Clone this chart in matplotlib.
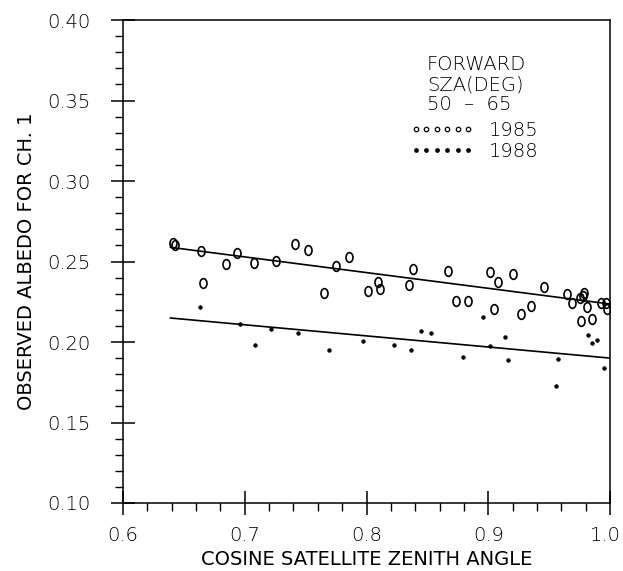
import numpy as np
import matplotlib
matplotlib.use("Agg")
import matplotlib.pyplot as plt
from matplotlib.path import Path
from matplotlib.lines import Line2D
from matplotlib.ticker import MultipleLocator, FormatStrFormatter
from matplotlib.transforms import ScaledTranslation

plt.rcParams['font.family'] = ['DejaVu Sans']
plt.rcParams['font.weight'] = 200

# ---- data ----
x_1985 = [0.6411, 0.6427, 0.6641, 0.6936, 0.6846, 0.7076, 0.7257, 0.6657,
          0.7413, 0.7520, 0.7856, 0.7749, 0.7651, 0.8012, 0.8094, 0.8111,
          0.8382, 0.8349, 0.8669, 0.9014, 0.9080, 0.8735, 0.8834, 0.9047,
          0.9203, 0.9458, 0.9351, 0.9269, 0.9647, 0.9688, 0.9754, 0.9778,
          0.9786, 0.9811, 0.9762, 0.9852, 0.9926, 0.9967, 0.9975]
y_1985 = [0.2615, 0.2602, 0.2565, 0.2553, 0.2484, 0.2491, 0.2503, 0.2366,
          0.2609, 0.2571, 0.2528, 0.2472, 0.2304, 0.2317, 0.2373, 0.2329,
          0.2453, 0.2354, 0.2441, 0.2435, 0.2373, 0.2255, 0.2255, 0.2205,
          0.2422, 0.2342, 0.2224, 0.2174, 0.2298, 0.2242, 0.2273, 0.2286,
          0.2304, 0.2217, 0.2130, 0.2143, 0.2242, 0.2242, 0.2205]

x_1988 = [0.6632, 0.6961, 0.7216, 0.7084, 0.7437, 0.7692, 0.7971, 0.8226,
          0.8365, 0.8448, 0.8530, 0.8793, 0.8957, 0.9014, 0.9138, 0.9162,
          0.9573, 0.9556, 0.9819, 0.9893, 0.9852, 0.9951]
y_1988 = [0.2217, 0.2112, 0.2081, 0.1981, 0.2056, 0.1950, 0.2006, 0.1981,
          0.1950, 0.2068, 0.2056, 0.1907, 0.2155, 0.1975, 0.2031, 0.1888,
          0.1894, 0.1727, 0.2043, 0.2012, 0.1994, 0.1839]

fit_x = [0.639, 1.0]
fit_1985 = [0.2588, 0.2236]
fit_1988 = [0.2149, 0.1900]

x_ticks = [0.6, 0.7, 0.8, 0.9, 1.0]
y_ticks = [0.10, 0.15, 0.20, 0.25, 0.30, 0.35, 0.40]

title_lines = ["FORWARD", "SZA(DEG)", "50  \u2013  65"]
series_labels = ["1985", "1988"]

# ---- figure ----
W, H = 623, 571
fig = plt.figure(figsize=(W / 100, H / 100), dpi=100)
ax = fig.add_axes([123 / W, (H - 503) / H, (610 - 123) / W, (503 - 20) / H])

# oval "0"-shaped marker
circ = Path.unit_circle()
oval = Path(circ.vertices * np.array([0.72, 1.0]), circ.codes)

ax.plot(x_1985, y_1985, linestyle='none', marker=oval, markersize=7.0,
        markerfacecolor='none', markeredgecolor='black', markeredgewidth=1.2)
ax.plot(x_1988, y_1988, linestyle='none', marker='o', markersize=2.6,
        markerfacecolor='black', markeredgecolor='black', markeredgewidth=0.5)
ax.plot(fit_x, fit_1985, color='black', lw=1.2)
ax.plot(fit_x, fit_1988, color='black', lw=1.2)

ax.set_xlim(0.6, 1.0)
ax.set_ylim(0.10, 0.40)
ax.set_xticks(x_ticks)
ax.set_yticks(y_ticks)
ax.xaxis.set_major_formatter(FormatStrFormatter('%.1f'))
ax.yaxis.set_major_formatter(FormatStrFormatter('%.2f'))
ax.xaxis.set_minor_locator(MultipleLocator(0.02))
ax.yaxis.set_minor_locator(MultipleLocator(0.01))

ax.tick_params(which='major', direction='inout', length=17, width=1.1,
               labelsize=14, top=False, right=False)
ax.tick_params(which='minor', direction='out', length=6, width=1.0,
               top=False, right=False)
ax.tick_params(axis='y', which='major', pad=15)
ax.tick_params(axis='x', which='major', pad=8)
for s in ax.spines.values():
    s.set_linewidth(1.1)

ax.set_xlabel("COSINE SATELLITE ZENITH ANGLE", fontsize=14, labelpad=4)
ax.set_ylabel("OBSERVED ALBEDO FOR CH. 1", fontsize=14, labelpad=8)

# keep the rightmost x tick label inside the canvas (as in the reference)
fig.canvas.draw()
last = ax.get_xticklabels()[-1]
last.set_transform(last.get_transform() +
                   ScaledTranslation(-5 / 100, 0, fig.dpi_scale_trans))

# annotation block
fig.text(427 / W, (H - 55) / H, "\n".join(title_lines),
         fontsize=14, ha='left', va='top', linespacing=1.08)

handles = [
    Line2D([], [], linestyle='none', marker='o', markersize=3.2,
           markerfacecolor='none', markeredgecolor='black', markeredgewidth=0.9),
    Line2D([], [], linestyle='none', marker='o', markersize=2.4,
           markerfacecolor='black', markeredgecolor='black'),
]
leg = ax.legend(handles, series_labels, numpoints=6, frameon=False,
                fontsize=14, handlelength=3.3, handletextpad=0.75,
                labelspacing=0.1, borderpad=0, borderaxespad=0,
                loc='upper left',
                bbox_to_anchor=(410 / W, (H - 121) / H),
                bbox_transform=fig.transFigure)

fig.savefig("out.png", dpi=100)
